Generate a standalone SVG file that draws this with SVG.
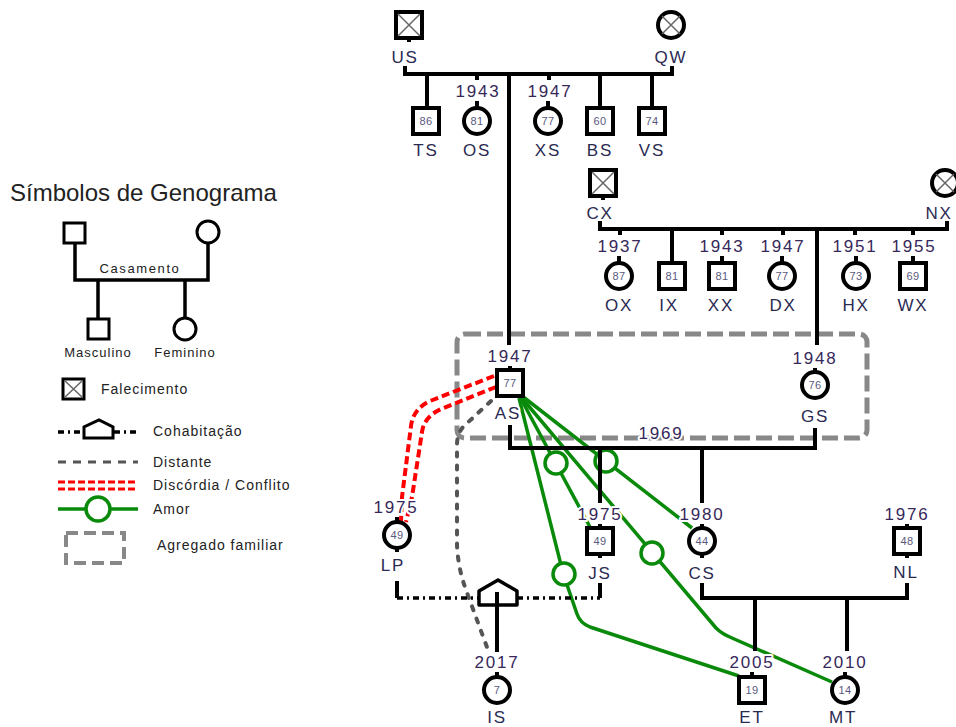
<svg xmlns="http://www.w3.org/2000/svg" width="956" height="727" viewBox="0 0 956 727">
<style>
.sq{fill:#fff;stroke:#000;stroke-width:4}
.ci{fill:#fff;stroke:#000;stroke-width:4}
.x{stroke:#666;stroke-width:1.5;fill:none}
.ln{stroke:#000;stroke-width:4;fill:none}
.cohab{stroke:#000;stroke-width:3.5;fill:none;stroke-dasharray:6 4 2 4}
.dist{stroke:#555;stroke-width:4;fill:none;stroke-dasharray:4 9;stroke-linecap:round}
.conf{stroke:#f00;stroke-width:4;fill:none;stroke-dasharray:8 4}
.love{stroke:#0a8a0a;stroke-width:3.5;fill:none}
.lc{stroke:#0a8a0a;stroke-width:3.5;fill:#fff}
.hh{stroke:#888;stroke-width:5;fill:none;stroke-dasharray:16 6}
.lbl{font-family:"Liberation Sans",Arial,sans-serif;font-size:17px;letter-spacing:1.8px;fill:#2a2a52;text-anchor:middle;paint-order:stroke;stroke:#fff;stroke-width:4;stroke-linejoin:round}
.yr{font-family:"Liberation Sans",Arial,sans-serif;font-size:17px;letter-spacing:1.8px;fill:#36285a;text-anchor:middle;paint-order:stroke;stroke:#fff;stroke-width:4;stroke-linejoin:round}
.num{font-family:"Liberation Sans",Arial,sans-serif;font-size:11px;letter-spacing:0.5px;fill:#5a5a80;text-anchor:middle}
.lg{font-family:"Liberation Sans",Arial,sans-serif;font-size:14px;letter-spacing:1px;fill:#222}
.title{font-family:"Liberation Sans",Arial,sans-serif;font-size:24px;fill:#222}
</style>

<!-- Legend -->
<g id="legend">
  <text class="title" x="10" y="201">Símbolos de Genograma</text>
  <path class="ln" style="stroke-width:3.5" d="M75,243 V280 H208 V244 M98,280 V319 M185,280 V318"/>
  <rect class="sq" style="stroke-width:3" x="64" y="223" width="21" height="20"/>
  <circle class="ci" style="stroke-width:3" cx="208" cy="232" r="11"/>
  <text class="lg" x="140" y="273" text-anchor="middle" style="font-size:13px;letter-spacing:1.6px">Casamento</text>
  <rect class="sq" style="stroke-width:3" x="88" y="319" width="21" height="20"/>
  <circle class="ci" style="stroke-width:3" cx="185" cy="329" r="11"/>
  <text class="lg" x="98" y="357" text-anchor="middle" style="font-size:13px">Masculino</text>
  <text class="lg" x="185" y="357" text-anchor="middle" style="font-size:13px">Feminino</text>
  <rect class="sq" style="stroke-width:3" x="63" y="379" width="21" height="20"/>
  <path class="x" d="M64.5,380.5 L82.5,397.5 M82.5,380.5 L64.5,397.5"/>
  <text class="lg" x="101" y="394">Falecimento</text>
  <path class="cohab" d="M58,432 H83 M114,432 H138"/>
  <path d="M84,438 V427 L99,420 L113,427 V438 Z" fill="#fff" stroke="#000" stroke-width="3"/>
  <text class="lg" x="153" y="436">Cohabitação</text>
  <path class="dist" style="stroke-width:3;stroke-dasharray:8 7;stroke-linecap:butt" d="M58,462 H138"/>
  <text class="lg" x="153" y="467">Distante</text>
  <path class="conf" style="stroke-width:3;stroke-dasharray:7 3" d="M58,482 H138 M58,489 H138"/>
  <text class="lg" x="153" y="490">Discórdia / Conflito</text>
  <path class="love" d="M58,509 H86 M110,509 H138"/>
  <circle class="lc" cx="98" cy="509" r="12"/>
  <text class="lg" x="153" y="514">Amor</text>
  <rect class="hh" style="stroke-width:4;stroke-dasharray:12 6" x="66" y="533" width="58" height="30"/>
  <text class="lg" x="157" y="550">Agregado familiar</text>
</g>

<!-- Household -->
<rect id="household" class="hh" x="457" y="334" width="410" height="104" rx="8"/>

<!-- Connectors -->
<g id="connectors">
  <path class="dist" d="M491,401 L464,426 Q457,433 457,445 L457,545 Q458,568 466,590 L488,650"/>
  <path class="conf" d="M494,376 L430,401 Q413,409 411,426 L402,497 L401,521"/>
  <path class="conf" d="M496,387 L441,409 Q424,417 422,432 L412,497 L406,522"/>
  <path class="love" d="M522,396 L692,528"/>
  <path class="love" d="M520,397 L590,527"/>
  <path class="love" d="M521,397 L716,628 Q722,634 732,638 L832,682"/>
  <path class="love" d="M519,398 L563,573 L577,614 Q580,623 590,627 L739,676"/>
  <circle class="lc" cx="606" cy="461" r="11"/>
  <circle class="lc" cx="556" cy="463" r="11"/>
  <circle class="lc" cx="652" cy="553" r="11"/>
  <circle class="lc" cx="564" cy="574" r="11"/>
  <path class="ln" d="M405,66 V74 H672 V66 M509,74 V345 M427,74 V108 M477,74 V80 M549,74 V80 M600,74 V108 M652,74 V108 M477,101 V108 M548,101 V108"/>
  <path class="ln" d="M600,221 V229 H947 V221 M620,229 V235 M672,229 V263 M722,229 V235 M783,229 V235 M817,229 V345 M855,229 V235 M913,229 V235 M619,256 V263 M722,256 V263 M782,256 V263 M856,256 V263 M913,256 V263"/>
  <path class="ln" d="M510,366 V370 M815,368 V372 M510,425 V448 H815 V428 M600,448 V503 M702,448 V503 M600,524 V528 M702,524 V528 M397,517 V522 M907,524 V528"/>
  <path class="ln" d="M397,581 V598 M600,583 V598 M702,583 V598 H907 V583 M755,598 V651 M847,598 V651 M497,590 V652 M497,672 V677 M752,672 V677 M845,672 V677"/>
  <path class="cohab" d="M397,598 H479 M517,598 H600"/>
  <path d="M479,605 V591 L498,580 L517,591 V605 Z" fill="#fff" stroke="#000" stroke-width="3.5" stroke-linejoin="round"/>
  <path class="ln" d="M497,592 V606"/>
  <text class="yr" x="661" y="439">1969</text>
</g>

<!-- Generation 1 -->
<g id="US"><rect class="sq" x="396" y="12" width="26" height="26"/><path class="x" d="M398,14 L420,36 M420,14 L398,36"/><path class="ln" d="M409,38 V42"/><text class="lbl" x="405" y="63">US</text></g>
<g id="QW"><circle class="ci" cx="671" cy="25" r="13"/><path class="x" d="M662,16 L680,34 M680,16 L662,34"/><text class="lbl" x="671" y="63">QW</text></g>

<g id="TS"><rect class="sq" x="413" y="108" width="26" height="26"/><text class="num" x="426" y="125">86</text><text class="lbl" x="426" y="156">TS</text></g>
<g id="OS"><text class="yr" x="478" y="97">1943</text><circle class="ci" cx="477" cy="121" r="13"/><text class="num" x="477" y="125">81</text><text class="lbl" x="477" y="156">OS</text></g>
<g id="XS"><text class="yr" x="550" y="97">1947</text><circle class="ci" cx="548" cy="121" r="13"/><text class="num" x="548" y="125">77</text><text class="lbl" x="548" y="156">XS</text></g>
<g id="BS"><rect class="sq" x="587" y="108" width="26" height="26"/><text class="num" x="600" y="125">60</text><text class="lbl" x="600" y="156">BS</text></g>
<g id="VS"><rect class="sq" x="639" y="108" width="26" height="26"/><text class="num" x="652" y="125">74</text><text class="lbl" x="652" y="156">VS</text></g>

<!-- Generation 2 -->
<g id="CX"><rect class="sq" x="590" y="170" width="26" height="26"/><path class="x" d="M592,172 L614,194 M614,172 L592,194"/><path class="ln" d="M603,196 V200"/><text class="lbl" x="600" y="219">CX</text></g>
<g id="NX"><circle class="ci" cx="945" cy="183" r="13"/><path class="x" d="M936,174 L954,192 M954,174 L936,192"/><text class="lbl" x="939" y="219">NX</text></g>

<g id="OX"><text class="yr" x="620" y="252">1937</text><circle class="ci" cx="619" cy="276" r="13"/><text class="num" x="619" y="280">87</text><text class="lbl" x="619" y="311">OX</text></g>
<g id="IX"><rect class="sq" x="659" y="263" width="26" height="26"/><text class="num" x="672" y="280">81</text><text class="lbl" x="669" y="311">IX</text></g>
<g id="XX"><text class="yr" x="722" y="252">1943</text><rect class="sq" x="709" y="263" width="26" height="26"/><text class="num" x="722" y="280">81</text><text class="lbl" x="721" y="311">XX</text></g>
<g id="DX"><text class="yr" x="783" y="252">1947</text><circle class="ci" cx="782" cy="276" r="13"/><text class="num" x="782" y="280">77</text><text class="lbl" x="783" y="311">DX</text></g>
<g id="HX"><text class="yr" x="855" y="252">1951</text><circle class="ci" cx="856" cy="276" r="13"/><text class="num" x="856" y="280">73</text><text class="lbl" x="856" y="311">HX</text></g>
<g id="WX"><text class="yr" x="914" y="252">1955</text><rect class="sq" x="900" y="263" width="26" height="26"/><text class="num" x="913" y="280">69</text><text class="lbl" x="913" y="311">WX</text></g>

<!-- Generation 3 -->
<g id="AS"><text class="yr" x="510" y="362">1947</text><rect class="sq" x="497" y="370" width="26" height="26"/><text class="num" x="510" y="387">77</text><text class="lbl" x="508" y="419">AS</text></g>
<g id="GS"><text class="yr" x="815" y="364">1948</text><circle class="ci" cx="815" cy="385" r="13"/><text class="num" x="815" y="389">76</text><text class="lbl" x="815" y="422">GS</text></g>

<g id="LP"><text class="yr" x="396" y="513">1975</text><circle class="ci" cx="397" cy="535" r="13"/><path class="ln" d="M397,548 V552"/><text class="num" x="397" y="539">49</text><text class="lbl" x="393" y="571">LP</text></g>
<g id="JS"><text class="yr" x="600" y="520">1975</text><rect class="sq" x="587" y="528" width="26" height="26"/><path class="ln" d="M600,554 V558"/><text class="num" x="600" y="545">49</text><text class="lbl" x="600" y="579">JS</text></g>
<g id="CS"><text class="yr" x="702" y="520">1980</text><circle class="ci" cx="702" cy="541" r="13"/><path class="ln" d="M702,554 V558"/><text class="num" x="702" y="545">44</text><text class="lbl" x="702" y="579">CS</text></g>
<g id="NL"><text class="yr" x="907" y="520">1976</text><rect class="sq" x="894" y="528" width="26" height="26"/><path class="ln" d="M907,554 V558"/><text class="num" x="907" y="545">48</text><text class="lbl" x="906" y="578">NL</text></g>

<!-- Generation 4 -->
<g id="IS"><text class="yr" x="497" y="668">2017</text><circle class="ci" cx="497" cy="690" r="13"/><text class="num" x="497" y="694">7</text><text class="lbl" x="497" y="723">IS</text></g>
<g id="ET"><text class="yr" x="752" y="668">2005</text><rect class="sq" x="739" y="677" width="26" height="26"/><text class="num" x="752" y="694">19</text><text class="lbl" x="752" y="723">ET</text></g>
<g id="MT"><text class="yr" x="845" y="668">2010</text><circle class="ci" cx="845" cy="690" r="13"/><text class="num" x="845" y="694">14</text><text class="lbl" x="843" y="723">MT</text></g>
</svg>
